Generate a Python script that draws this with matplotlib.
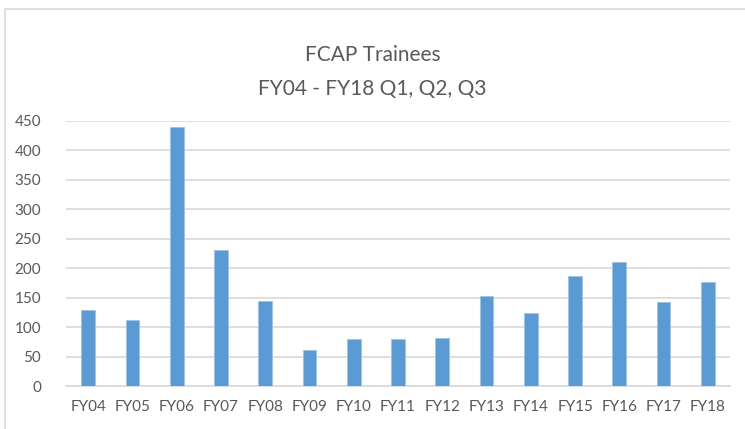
import matplotlib.pyplot as plt
from matplotlib.patches import Rectangle

# FCAP trainees per fiscal year (Q1-Q3)
years = ['FY04', 'FY05', 'FY06', 'FY07', 'FY08', 'FY09', 'FY10', 'FY11',
         'FY12', 'FY13', 'FY14', 'FY15', 'FY16', 'FY17', 'FY18']
trainees = [129, 112, 440, 230, 145, 61, 79, 79, 82, 152, 124, 187, 210, 142, 177]
yticks = [0, 50, 100, 150, 200, 250, 300, 350, 400, 450]

plt.rcParams['font.family'] = ['Lato', 'DejaVu Sans']
text_color = '#595959'
grid_color = '#D9D9D9'

fig = plt.figure(figsize=(7.45, 4.29), dpi=100)
ax = fig.add_axes([66 / 745, 43 / 429, 664 / 745, 265.3 / 429])

ax.bar(range(len(years)), trainees, width=0.31, color='#5B9BD5',
       edgecolor='#9DC3E6', linewidth=0.6, zorder=3)

ax.set_xlim(-0.5, len(years) - 0.5)
ax.set_ylim(0, 450)
ax.set_yticks(yticks)
ax.set_xticks(range(len(years)))
ax.set_xticklabels(years)
ax.tick_params(axis='both', length=0, labelsize=11, colors=text_color)
ax.tick_params(axis='x', pad=10)
ax.tick_params(axis='y', pad=18)
for lab in ax.get_yticklabels():
    lab.set_horizontalalignment('right')

ax.grid(axis='y', color=grid_color, linewidth=1.2, zorder=0)
for side in ['top', 'right', 'left']:
    ax.spines[side].set_visible(False)
ax.spines['bottom'].set_color(grid_color)
ax.spines['bottom'].set_linewidth(1.2)

fig.text(0.5, 1 - 61 / 429, 'FCAP Trainees', ha='center', va='baseline',
         fontsize=15, color=text_color)
fig.text(0.5, 1 - 95 / 429, 'FY04 - FY18 Q1, Q2, Q3', ha='center', va='baseline',
         fontsize=15, color=text_color)

# chart border
fig.patches.append(Rectangle((5 / 745, -0.1), 1.1, 1 - 9 / 429 + 0.1,
                             transform=fig.transFigure, fill=False,
                             edgecolor=grid_color, linewidth=1.2))

fig.savefig('out.png', dpi=100)
